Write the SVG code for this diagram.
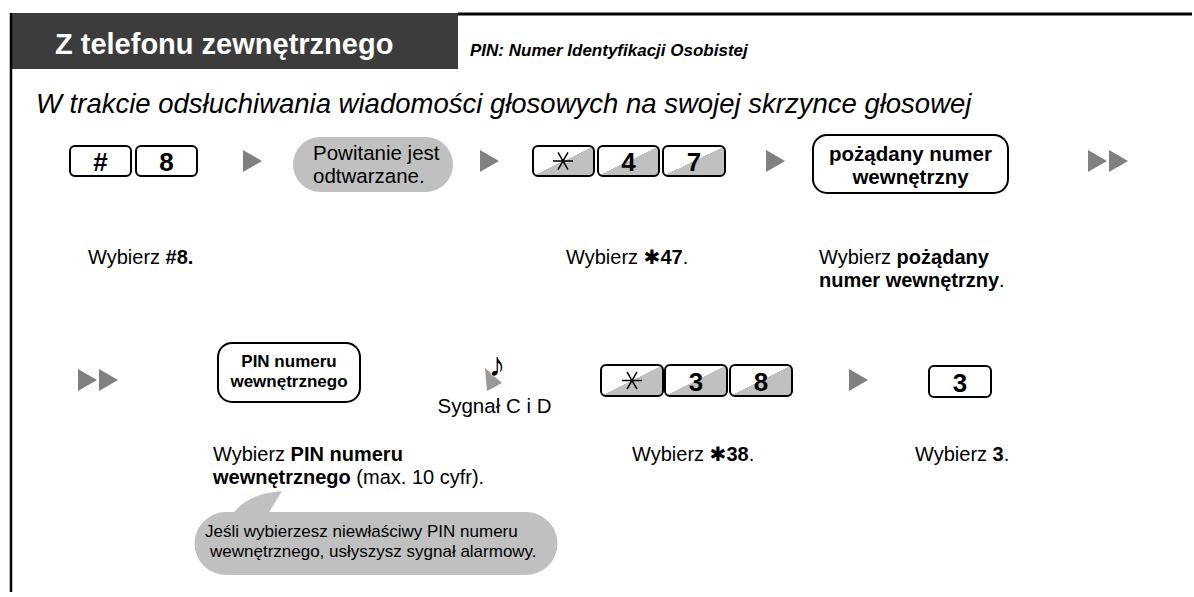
<svg xmlns="http://www.w3.org/2000/svg" width="1194" height="597" viewBox="0 0 1194 597">
<style>
text{font-family:"Liberation Sans",Arial,sans-serif;fill:#000}
.b{font-weight:bold}
.key{fill:#fff;stroke:#000;stroke-width:2}
.gkey{fill:url(#kg);stroke:#000;stroke-width:2}
.klab{font-weight:bold;font-size:26px;text-anchor:middle}
.box{fill:#fff;stroke:#000;stroke-width:2}
.arr{fill:#808080}
.cap{font-size:20px}
.ast{font-family:"DejaVu Sans",sans-serif;font-weight:bold}
.star{stroke:#000;stroke-width:1.5;fill:none}
</style>
<defs>
<linearGradient id="kg" x1="0" y1="0" x2="1" y2="1">
<stop offset="0.5" stop-color="#fff"/>
<stop offset="0.5" stop-color="#c0c0c0"/>
</linearGradient>
<path id="tri" d="M0,-11 L19,0 L0,11 Z"/>
</defs>

<g id="header">
<rect x="10" y="13" width="448" height="56" fill="#3c3c3c"/>
<text x="55" y="54" class="b" font-size="29" style="fill:#fff">Z telefonu zewnętrznego</text>
<text x="470" y="56" class="b" font-size="17" font-style="italic">PIN: Numer Identyfikacji Osobistej</text>
<line x1="458" y1="14" x2="1192" y2="14" stroke="#000" stroke-width="3"/>
<line x1="11" y1="13" x2="11" y2="592" stroke="#000" stroke-width="2.5"/>
</g>

<text id="subtitle" x="36" y="113" font-size="27.5" font-style="italic">W trakcie odsłuchiwania wiadomości głosowych na swojej skrzynce głosowej</text>

<g id="keys-hash8">
<rect class="key" x="70" y="146" width="61" height="30" rx="5"/>
<text class="klab" x="100.5" y="171">#</text>
<rect class="key" x="136" y="146" width="61" height="30" rx="5"/>
<text class="klab" x="166.5" y="171">8</text>
</g>

<g id="greeting">
<rect x="293" y="137" width="160" height="55" rx="27.5" fill="#c0c0c0"/>
<text x="313" y="160" font-size="20.5">Powitanie jest</text>
<text x="313" y="183" font-size="20.5">odtwarzane.</text>
</g>

<g id="keys-star47">
<rect class="gkey" x="533" y="146" width="61" height="30" rx="5"/>
<path class="star" d="M553,161 H573 M558,152.3 L568,169.7 M568,152.3 L558,169.7"/>
<rect class="gkey" x="598" y="146" width="61" height="30" rx="5"/>
<text class="klab" x="628.5" y="171">4</text>
<rect class="gkey" x="663" y="146" width="62" height="30" rx="5"/>
<text class="klab" x="694" y="171">7</text>
</g>

<g id="ext-number">
<rect class="box" x="813" y="135" width="195" height="58" rx="14"/>
<text class="b" x="910.5" y="161" font-size="20.5" text-anchor="middle">pożądany numer</text>
<text class="b" x="910.5" y="184" font-size="20.5" text-anchor="middle">wewnętrzny</text>
</g>

<g id="pin-box">
<rect class="box" x="218" y="343" width="142" height="59" rx="14"/>
<text class="b" x="289" y="367" font-size="17" text-anchor="middle">PIN numeru</text>
<text class="b" x="289" y="387" font-size="17" text-anchor="middle">wewnętrznego</text>
</g>

<g id="tone">
<polygon points="485,368 502,383 487,391" fill="#999"/>
<text x="497" y="376" font-family="DejaVu Sans" font-size="34" text-anchor="middle" stroke="#fff" stroke-width="1.5" paint-order="stroke">♪</text>
<text x="494.5" y="413" font-size="20.5" text-anchor="middle">Sygnał C i D</text>
</g>

<g id="keys-star38">
<rect class="gkey" x="601" y="365" width="62" height="31" rx="5"/>
<path class="star" d="M622,380.5 H642 M627,371.8 L637,389.2 M637,371.8 L627,389.2"/>
<rect class="gkey" x="665" y="365" width="62" height="31" rx="5"/>
<text class="klab" x="696" y="391">3</text>
<rect class="gkey" x="730" y="365" width="62" height="31" rx="5"/>
<text class="klab" x="761" y="391">8</text>
</g>

<g id="key-3">
<rect class="key" x="929" y="366" width="62" height="31" rx="5"/>
<text class="klab" x="960" y="392">3</text>
</g>

<g id="connectors">
<use href="#tri" class="arr" x="243" y="161"/>
<use href="#tri" class="arr" x="480" y="161"/>
<use href="#tri" class="arr" x="766" y="161"/>
<use href="#tri" class="arr" x="1088" y="161"/>
<use href="#tri" class="arr" x="1109" y="161"/>
<use href="#tri" class="arr" x="78" y="380"/>
<use href="#tri" class="arr" x="99" y="380"/>
<use href="#tri" class="arr" x="849" y="380"/>
</g>

<g id="captions">
<text class="cap" x="88" y="264">Wybierz <tspan class="b">#8.</tspan></text>
<text class="cap" x="566" y="264">Wybierz <tspan class="ast">✱</tspan><tspan class="b">47</tspan>.</text>
<text class="cap" x="819" y="264">Wybierz <tspan class="b">pożądany</tspan></text>
<text class="cap" x="819" y="287"><tspan class="b">numer wewnętrzny</tspan>.</text>
<text class="cap" x="213" y="461">Wybierz <tspan class="b">PIN numeru</tspan></text>
<text class="cap" x="213" y="484"><tspan class="b">wewnętrznego</tspan> (max. 10 cyfr).</text>
<text class="cap" x="632" y="461">Wybierz <tspan class="ast">✱</tspan><tspan class="b">38</tspan>.</text>
<text class="cap" x="915" y="461">Wybierz <tspan class="b">3</tspan>.</text>
</g>

<g id="note">
<path d="M225,512 H526 A31.5,31.5 0 0 1 526,575 H226 A31.5,31.5 0 0 1 226,512 Z" fill="#c0c0c0"/>
<path d="M233,514 Q246,494 282,491 L268,514 Z" fill="#c0c0c0"/>
<text x="205" y="537" font-size="17">Jeśli wybierzesz niewłaściwy PIN numeru</text>
<text x="210" y="557" font-size="17">wewnętrznego, usłyszysz sygnał alarmowy.</text>
</g>
</svg>
